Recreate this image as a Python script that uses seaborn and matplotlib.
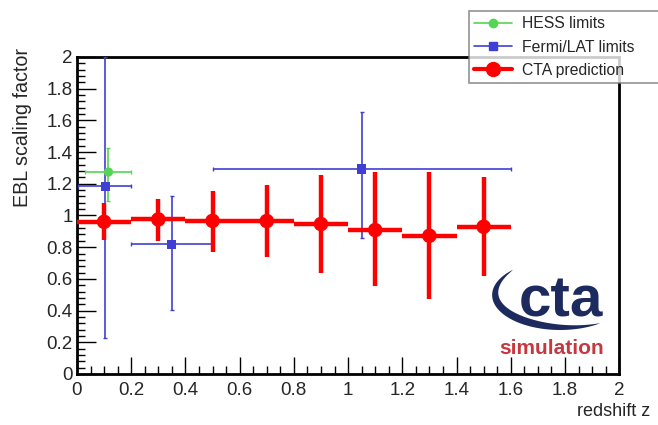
import numpy as np
import pandas as pd
import matplotlib
matplotlib.use("Agg")
import matplotlib.pyplot as plt
from matplotlib.lines import Line2D
from matplotlib.patches import Polygon
from matplotlib.ticker import MultipleLocator, FuncFormatter
import seaborn as sns

# CTA prediction
cta_z = [0.1, 0.3, 0.5, 0.7, 0.9, 1.1, 1.3, 1.5]
cta_zerr = [0.1, 0.1, 0.1, 0.1, 0.1, 0.1, 0.1, 0.1]
cta_y = [0.96, 0.975, 0.966, 0.965, 0.946, 0.908, 0.872, 0.929]
cta_ylo = [0.845, 0.84, 0.77, 0.739, 0.637, 0.552, 0.47, 0.618]
cta_yhi = [1.081, 1.102, 1.157, 1.194, 1.257, 1.272, 1.274, 1.24]

# HESS limits
hess_z = [0.116]
hess_zlo = [0.03]
hess_zhi = [0.2]
hess_y = [1.274]
hess_ylo = [1.092]
hess_yhi = [1.427]

# Fermi/LAT limits
fermi_z = [0.105, 0.349, 1.05]
fermi_zlo = [0.005, 0.2, 0.5]
fermi_zhi = [0.2, 0.497, 1.6]
fermi_y = [1.183, 0.817, 1.293]
fermi_ylo = [0.23, 0.405, 0.859]
fermi_yhi = [2.0, 1.124, 1.655]

green = "#55d455"
blue = "#3f3fd4"
red = "#ff0000"
navy = "#1c2a5e"

sns.set_theme(style="white")
plt.rcParams["font.family"] = ["Liberation Sans", "DejaVu Sans"]

W, H = 658, 425
fig = plt.figure(figsize=(W / 100, H / 100), dpi=100)
ax = fig.add_axes([0.117, 0.12, 0.824, 0.746])


def asym(c, lo, hi):
    c = np.array(c)
    return [c - np.array(lo), np.array(hi) - c]


# error bars
ax.errorbar(cta_z, cta_y, xerr=cta_zerr, yerr=asym(cta_y, cta_ylo, cta_yhi),
            fmt="none", ecolor=red, elinewidth=3.2, capsize=0, zorder=4)
ax.errorbar(fermi_z, fermi_y, xerr=asym(fermi_z, fermi_zlo, fermi_zhi),
            yerr=asym(fermi_y, fermi_ylo, fermi_yhi),
            fmt="none", ecolor=blue, elinewidth=1.2, capsize=1.5, capthick=1, zorder=3)
ax.errorbar(hess_z, hess_y, xerr=asym(hess_z, hess_zlo, hess_zhi),
            yerr=asym(hess_y, hess_ylo, hess_yhi),
            fmt="none", ecolor=green, elinewidth=1.2, capsize=1.5, capthick=1, zorder=3)

# markers
df_cta = pd.DataFrame({"z": cta_z, "y": cta_y})
df_fermi = pd.DataFrame({"z": fermi_z, "y": fermi_y})
df_hess = pd.DataFrame({"z": hess_z, "y": hess_y})
sns.scatterplot(data=df_hess, x="z", y="y", ax=ax, color=green, marker="o",
                s=45, edgecolor="none", zorder=5)
sns.scatterplot(data=df_fermi, x="z", y="y", ax=ax, color=blue, marker="s",
                s=45, edgecolor="none", zorder=5)
sns.scatterplot(data=df_cta, x="z", y="y", ax=ax, color=red, marker="o",
                s=110, edgecolor="none", zorder=6)

ax.set_xlim(0, 2)
ax.set_ylim(0, 2)

fmt = FuncFormatter(lambda v, p: ("%g" % round(v, 2)))
ax.xaxis.set_major_locator(MultipleLocator(0.2))
ax.xaxis.set_minor_locator(MultipleLocator(0.05))
ax.yaxis.set_major_locator(MultipleLocator(0.2))
ax.yaxis.set_minor_locator(MultipleLocator(0.04))
ax.xaxis.set_major_formatter(fmt)
ax.yaxis.set_major_formatter(fmt)
ax.tick_params(which="both", direction="in", color="black", width=1,
               bottom=True, left=True, top=False, right=False, labelsize=13.5)
ax.tick_params(axis="x", which="major", length=12, pad=6)
ax.tick_params(axis="y", which="major", length=14, pad=3)
ax.tick_params(which="minor", length=6)
for s in ax.spines.values():
    s.set_color("black")
    s.set_linewidth(2)

ax.set_xlabel("")
ax.set_ylabel("")
fig.text(650 / W, 1 - 412 / H, "redshift z", fontsize=13, ha="right", va="center")
fig.text(23 / W, 1 - 48 / H, "EBL scaling factor", fontsize=14.2, rotation=90,
         ha="center", va="top")

# legend
handles = [
    Line2D([], [], color=green, marker="o", ms=6, lw=1.2, label="HESS limits"),
    Line2D([], [], color=blue, marker="s", ms=6, lw=1.2, label="Fermi/LAT limits"),
    Line2D([], [], color=red, marker="o", ms=10, lw=3, label="CTA prediction"),
]
leg = fig.legend(handles=handles, loc="upper left", mode="expand",
                 bbox_to_anchor=(469 / W, 1 - 11 / H, 1 - 468 / W, 0.0),
                 fontsize=11.3, frameon=True, fancybox=False, edgecolor="#777777",
                 borderaxespad=0, handlelength=2.4, handletextpad=0.6,
                 borderpad=0.35, labelspacing=0.52)
leg.get_frame().set_linewidth(1.2)


# cta logo, positions in pixels converted to axes fractions
def px2ax(px, py):
    return (np.asarray(px) - 77) / 542, (374 - np.asarray(py)) / 317


th = np.linspace(np.deg2rad(134), np.deg2rad(306), 120)
thick = 8 * np.sin(np.pi * (th - th[0]) / (th[-1] - th[0])) ** 0.8
cx, cy, a, b = 560, 295, 68, 35
ox, oy = cx + a * np.cos(th), cy - b * np.sin(th)
ix, iy = cx + (a - thick) * np.cos(th), cy - (b - thick) * np.sin(th)
px = np.concatenate([ox, ix[::-1]])
py = np.concatenate([oy, iy[::-1]])
axx, axy = px2ax(px, py)
ax.add_patch(Polygon(np.column_stack([axx, axy]), closed=True,
                     transform=ax.transAxes, facecolor=navy, edgecolor="none",
                     zorder=7))
tx, ty = px2ax(561, 317)
ax.text(tx, ty, "cta", transform=ax.transAxes, fontsize=42,
        fontweight="bold", color=navy, ha="center", va="baseline", zorder=7)
sx, sy = px2ax(551, 349)
ax.text(sx, sy, "simulation", transform=ax.transAxes, fontsize=15,
        fontweight="bold", color="#c8363e", ha="center", va="center", zorder=7)

fig.savefig("out.png", dpi=100)
